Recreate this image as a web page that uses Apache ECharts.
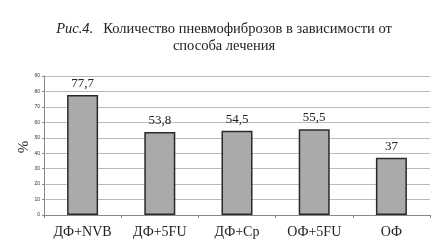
<!DOCTYPE html>
<html><head><meta charset="utf-8">
<script src="https://cdn.jsdelivr.net/npm/echarts@6/dist/echarts.min.js"></script>
<style>html,body{margin:0;padding:0;background:#fff}#c{width:448px;height:244px}</style>
</head><body><div id="c"></div>
<script>
const categories = ['ДФ+NVB', 'ДФ+5FU', 'ДФ+Cp', 'ОФ+5FU', 'ОФ'];
const values = [77.7, 53.8, 54.5, 55.5, 37];
const yTicks = [0, 10, 20, 30, 40, 50, 60, 70, 80, 90];
const titleLine1 = 'Количество пневмофиброзов в зависимости от';
const titlePrefix = 'Рис.4.';
const titleLine2 = 'способа лечения';
const yName = '%';

const serif = '"Liberation Serif", "DejaVu Serif", serif';
const chart = echarts.init(document.getElementById('c'), null, {renderer: 'canvas'});
chart.setOption({
  animation: false,
  title: [
    {
      text: '{i|' + titlePrefix + '}  {n|' + titleLine1 + '}',
      left: 'center', top: 15,
      textStyle: {fontWeight: 'normal', rich: {
        i: {fontFamily: serif, fontStyle: 'italic', fontWeight: 'normal', fontSize: 14.5, color: '#222'},
        n: {fontFamily: serif, fontWeight: 'normal', fontSize: 14.5, color: '#222'}
      }}
    },
    {
      text: titleLine2, left: 'center', top: 34,
      textStyle: {fontFamily: serif, fontSize: 14.5, fontWeight: 'normal', color: '#222'}
    }
  ],
  graphic: [{
    type: 'text', x: 24, y: 147, rotation: Math.PI / 2,
    style: {text: yName, font: '15px ' + serif, fill: '#333', align: 'center', verticalAlign: 'middle'}
  }],
  grid: {left: 44, right: 18, top: 76, bottom: 29, containLabel: false},
  xAxis: {
    type: 'category', data: categories,
    axisLine: {lineStyle: {color: '#888', width: 1}},
    axisTick: {show: true, length: 3, lineStyle: {color: '#888'}},
    axisLabel: {interval: 0, hideOverlap: false, fontFamily: serif, fontSize: 14, color: '#222', margin: 10}
  },
  yAxis: {
    type: 'value', min: yTicks[0], max: yTicks[yTicks.length - 1], interval: 10,
    axisLine: {show: true, lineStyle: {color: '#888'}},
    axisTick: {show: true, length: 2, lineStyle: {color: '#888'}},
    axisLabel: {fontSize: 5, color: '#333', margin: 4, fontFamily: 'Liberation Sans'},
    splitLine: {lineStyle: {color: '#bbb', width: 1}}
  },
  series: [{
    type: 'bar', data: values, barWidth: 31,
    itemStyle: {color: '#aaaaaa', borderColor: '#2a2a2a', borderWidth: 1.5},
    label: {
      show: true, position: 'top', distance: 5,
      fontFamily: serif, fontSize: 13, color: '#222',
      formatter: p => String(p.value).replace('.', ',')
    }
  }]
});
</script></body></html>
